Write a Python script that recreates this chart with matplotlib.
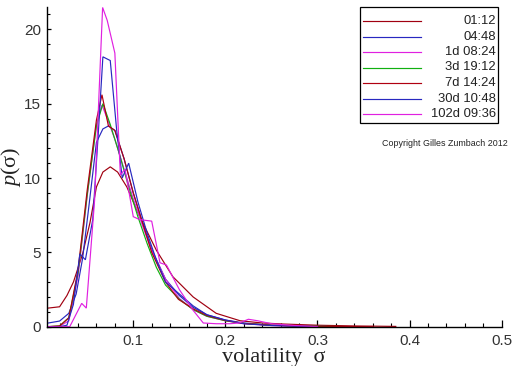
import matplotlib
matplotlib.use("Agg")
import matplotlib.pyplot as plt
from matplotlib.ticker import MultipleLocator, FixedLocator
from matplotlib.lines import Line2D
from matplotlib.patches import Rectangle

# ---------------- data ----------------
labels = ["01:12", "04:48", "1d 08:24", "3d 19:12", "7d 14:24", "30d 10:48", "102d 09:36"]
colors = ["#a00010", "#2828c0", "#e020e0", "#10b010", "#b00010", "#2828c0", "#e020e0"]

x_0112 = [0.006, 0.02, 0.028, 0.035, 0.045, 0.053, 0.06, 0.067, 0.075, 0.083, 0.093, 0.107,
          0.125, 0.143, 0.165, 0.19, 0.216, 0.24, 0.263, 0.3, 0.34, 0.385]
y_0112 = [1.24, 1.34, 2.1, 3.0, 4.9, 7.0, 9.4, 10.4, 10.75, 10.4, 9.4, 7.4,
          5.15, 3.36, 2.0, 0.9, 0.4, 0.25, 0.18, 0.1, 0.05, 0.02]

x_0448 = [0.006, 0.02, 0.03, 0.038, 0.045, 0.052, 0.06, 0.067, 0.073, 0.08, 0.09, 0.1, 0.11,
          0.12, 0.135, 0.15, 0.165, 0.18, 0.2, 0.22, 0.25, 0.28, 0.31]
y_0448 = [0.23, 0.38, 0.9, 2.2, 4.6, 8.2, 12.4, 13.3, 13.5, 13.2, 11.3, 9.0, 7.0,
          5.2, 3.2, 2.1, 1.3, 0.8, 0.45, 0.25, 0.1, 0.05, 0.02]

x_1d = [0.006, 0.02, 0.03, 0.04, 0.05, 0.06, 0.066, 0.073, 0.08, 0.09, 0.1, 0.11, 0.12,
        0.135, 0.15, 0.165, 0.18, 0.2, 0.22, 0.25, 0.28]
y_1d = [0.0, 0.02, 0.4, 3.4, 8.8, 13.6, 14.9, 13.8, 12.6, 10.6, 8.6, 6.8, 5.1,
        3.2, 1.9, 1.15, 0.7, 0.4, 0.2, 0.08, 0.02]

x_3d = [0.006, 0.02, 0.03, 0.04, 0.05, 0.06, 0.067, 0.075, 0.085, 0.095, 0.105, 0.115, 0.125,
        0.135, 0.15, 0.165, 0.18, 0.2, 0.22, 0.25, 0.28, 0.31, 0.34]
y_3d = [0.0, 0.05, 0.6, 3.6, 8.9, 13.5, 15.0, 13.6, 11.6, 9.4, 7.4, 5.6, 4.0,
        2.8, 1.85, 1.15, 0.7, 0.4, 0.22, 0.1, 0.05, 0.02, 0.0]

x_7d = [0.006, 0.02, 0.03, 0.04, 0.05, 0.06, 0.066, 0.073, 0.08, 0.09, 0.1, 0.11, 0.12,
        0.135, 0.149, 0.165, 0.18, 0.2, 0.22, 0.25, 0.28, 0.32, 0.36]
y_7d = [0.0, 0.05, 0.6, 3.8, 9.2, 13.9, 15.6, 13.5, 13.2, 11.3, 9.0, 7.0, 5.0,
        3.0, 1.84, 1.2, 0.75, 0.42, 0.22, 0.1, 0.05, 0.02, 0.0]

x_30d = [0.006, 0.02, 0.028, 0.035, 0.042, 0.048, 0.056, 0.062, 0.067, 0.075, 0.082, 0.088,
         0.095, 0.105, 0.115, 0.125, 0.135, 0.15, 0.165, 0.18, 0.2, 0.22, 0.25, 0.28, 0.3]
y_30d = [0.0, 0.0, 0.1, 1.5, 4.9, 4.5, 7.2, 13.0, 18.15, 17.9, 13.2, 10.0,
         11.0, 8.4, 6.3, 4.5, 3.0, 2.2, 1.4, 0.8, 0.45, 0.2, 0.08, 0.03, 0.0]

x_102d = [0.006, 0.031, 0.044, 0.049, 0.058, 0.0667, 0.0717, 0.08, 0.086, 0.091, 0.1, 0.107,
          0.12, 0.129, 0.136, 0.15, 0.165, 0.176, 0.19, 0.205, 0.215, 0.225, 0.235, 0.25, 0.27, 0.3]
y_102d = [0.0, 0.0, 1.57, 1.25, 8.5, 21.47, 20.6, 18.4, 10.2, 10.6, 7.4, 7.2,
          7.1, 4.3, 4.15, 2.5, 1.1, 0.25, 0.2, 0.2, 0.25, 0.5, 0.4, 0.2, 0.1, 0.0]

series_x = [x_0112, x_0448, x_1d, x_3d, x_7d, x_30d, x_102d]
series_y = [y_0112, y_0448, y_1d, y_3d, y_7d, y_30d, y_102d]

xticks = [0.1, 0.2, 0.3, 0.4, 0.5]
xtick_labels = ["0.1", "0.2", "0.3", "0.4", "0.5"]
yticks = [0, 5, 10, 15, 20]
ytick_labels = ["0", "5", "10", "15", "20"]

# ---------------- figure ----------------
plt.rcParams['mathtext.fontset'] = 'custom'
plt.rcParams['mathtext.it'] = 'Liberation Serif:italic'
plt.rcParams['mathtext.rm'] = 'Liberation Serif'

fig = plt.figure(figsize=(5.12, 3.66), dpi=100)
ax = fig.add_axes([46.7 / 512, 39.3 / 366, 455 / 512, 319.7 / 366])

for xs, ys, c in zip(series_x, series_y, colors):
    ax.plot(xs, ys, color=c, lw=0.85, solid_joinstyle='miter')

ax.set_xlim(0.006, 0.5)
ax.set_ylim(0, 21.5)

for s in ["top", "right"]:
    ax.spines[s].set_visible(False)
for s in ["left", "bottom"]:
    ax.spines[s].set_linewidth(1.0)
    ax.spines[s].set_color("#000000")

ax.xaxis.set_major_locator(FixedLocator(xticks))
ax.set_xticklabels(xtick_labels)
ax.xaxis.set_minor_locator(MultipleLocator(0.02))
ax.yaxis.set_major_locator(FixedLocator(yticks))
ax.set_yticklabels(ytick_labels)
ax.yaxis.set_minor_locator(MultipleLocator(1))

ax.tick_params(axis='x', which='major', direction='in', length=5, width=0.9, pad=5,
               labelsize=11, labelcolor='#333333')
ax.tick_params(axis='x', which='minor', direction='in', length=3.2, width=0.8)
ax.tick_params(axis='y', which='major', direction='in', length=3.2, width=0.9, pad=4,
               labelsize=11, labelcolor='#333333')
ax.tick_params(axis='y', which='minor', direction='in', length=2.2, width=0.8)
for t in ax.get_xticklabels() + ax.get_yticklabels():
    t.set_fontfamily('Liberation Sans')

ax.set_xlabel("volatility  σ", fontfamily='Liberation Serif', fontsize=16, labelpad=0, color='#222222')
ax.set_ylabel(r"$p$(σ)", fontfamily='Liberation Serif', fontsize=16, labelpad=1, color='#222222')

# ---------------- legend (drawn manually so labels are right aligned) ----------------
px2ax_x = lambda px: (px - 46.7) / 455.0
px2ax_y = lambda py: (326.7 - py) / 319.7
ax.add_patch(Rectangle((px2ax_x(360), px2ax_y(123)), px2ax_x(498) - px2ax_x(360),
                       px2ax_y(7) - px2ax_y(123), transform=ax.transAxes,
                       facecolor='white', edgecolor='black', lw=0.9, zorder=5, clip_on=False))
row_y = [21, 36.5, 52, 67.5, 83, 98.5, 114]
for lab, c, py in zip(labels, colors, row_y):
    ax.add_line(Line2D([px2ax_x(363), px2ax_x(421)], [px2ax_y(py), px2ax_y(py)],
                       transform=ax.transAxes, color=c, lw=0.85, zorder=6, clip_on=False))
    ax.text(px2ax_x(496), px2ax_y(py), lab, transform=ax.transAxes, ha='right', va='center',
            fontsize=9.4, fontfamily='Liberation Sans', color='#222222', zorder=6)

ax.text(px2ax_x(508), px2ax_y(144), "Copyright Gilles Zumbach 2012", transform=ax.transAxes,
        ha='right', va='center', fontsize=6.4, fontfamily='Liberation Sans', color='#222222')

fig.savefig("out.png", dpi=100)
